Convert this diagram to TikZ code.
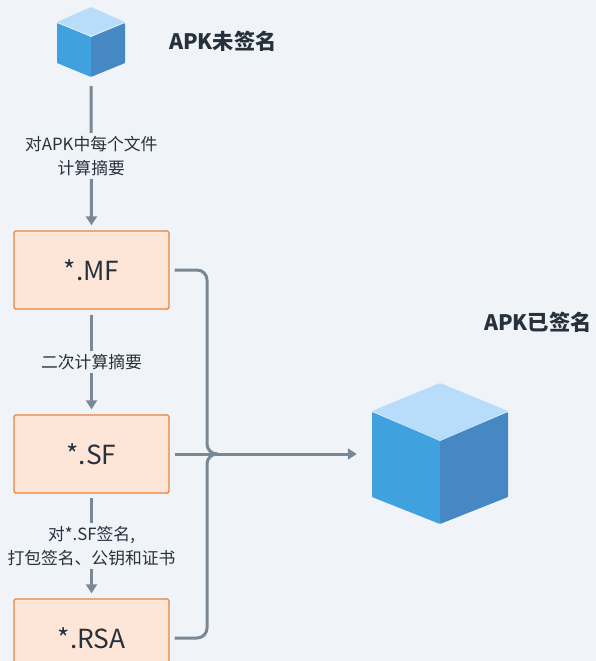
\documentclass[tikz,border=0pt]{standalone}
\usepackage{fontspec}
\setmainfont{Noto Sans CJK SC}
\usetikzlibrary{arrows.meta}
\definecolor{bgc}{HTML}{F0F4F8}
\definecolor{boxfill}{HTML}{FDE6D8}
\definecolor{boxline}{HTML}{E8833A}
\definecolor{linec}{HTML}{7A8896}
\definecolor{textc}{HTML}{27313C}
\definecolor{cubetop}{HTML}{B8DDFB}
\definecolor{cubeleft}{HTML}{3FA1DE}
\definecolor{cuberight}{HTML}{4588C4}
\tikzset{
  x=1pt,y=-1pt,
  filebox/.style={draw=boxline,fill=boxfill,line width=1.4pt,rounded corners=1.5pt,minimum width=155pt,minimum height=78pt,inner sep=0pt,text=textc,font=\fontsize{26.3}{30}\selectfont},
  flow/.style={draw=linec,line width=3pt,-{Triangle[length=9pt,width=11pt]}},
  merge/.style={draw=linec,line width=3pt,rounded corners=10pt},
  steplabel/.style={fill=bgc,align=center,text=textc,inner xsep=1pt,inner ysep=3pt,font=\fontsize{16.8}{24}\selectfont},
  titlelabel/.style={text=textc,anchor=west,inner sep=0pt,font=\fontsize{21.3}{24}\selectfont\bfseries},
  cubearea/.style={minimum width=#1,inner sep=0pt},
  cubeface/.style={line join=round,rounded corners=0.7pt}
}
\begin{document}
\begin{tikzpicture}
\useasboundingbox (0,0) rectangle (596,661);
\clip (0,0) rectangle (596,661);
\fill[bgc] (0,0) rectangle (596,661);
% small cube
\fill[cubeface,cubeleft] (57,23) -- (91,37) -- (91,77) -- (57,63) -- cycle;
\fill[cubeface,cuberight] (125,23) -- (91,37) -- (91,77) -- (125,63) -- cycle;
\fill[cubeface,cubetop] (91,7) -- (125,22) -- (91,36) -- (57,22) -- cycle;
% big cube
\fill[cubeface,cubeleft] (372,412) -- (440,441) -- (440,524) -- (372,497) -- cycle;
\fill[cubeface,cuberight] (508,412) -- (440,441) -- (440,524) -- (508,497) -- cycle;
\fill[cubeface,cubetop] (440,383) -- (508,411) -- (440,441) -- (372,411) -- cycle;
% nodes
\node[cubearea=68pt,minimum height=70pt] (cubeA) at (91,42) {};
\node[cubearea=136pt,minimum height=141pt] (cubeB) at (440,454) {};
\node[filebox] (mf) at (91.5,270) {*.MF};
\node[filebox] (sf) at (91.5,454) {*.SF};
\node[filebox] (rsa) at (91.5,638) {*.RSA};
\node[titlelabel] (titleA) at (169,41) {APK未签名};
\node[titlelabel] (titleB) at (484,322) {APK已签名};
\coordinate (busA) at (207,454);
\coordinate (join) at (218,454);
% connectors
\draw[flow,shorten <=9pt,shorten >=5pt] (cubeA.south) -- node[steplabel,pos=.513] (labA) {对APK中每个文件\\计算摘要} (mf.north);
\draw[flow,shorten <=5pt,shorten >=5pt] (mf.south) -- node[steplabel] (labB) {二次计算摘要} (sf.north);
\draw[flow,shorten <=4pt,shorten >=5pt] (sf.south) -- node[steplabel] (labC) {对*.SF签名,\\打包签名、公钥和证书} (rsa.north);
\draw[merge,shorten <=5pt] (mf.east) -| (busA) -- (join);
\draw[merge,shorten <=5pt] (rsa.east) -| (busA) -- (join);
\draw[flow,shorten <=5pt,shorten >=15pt] (sf.east) -- (cubeB.west);
\end{tikzpicture}
\end{document}
